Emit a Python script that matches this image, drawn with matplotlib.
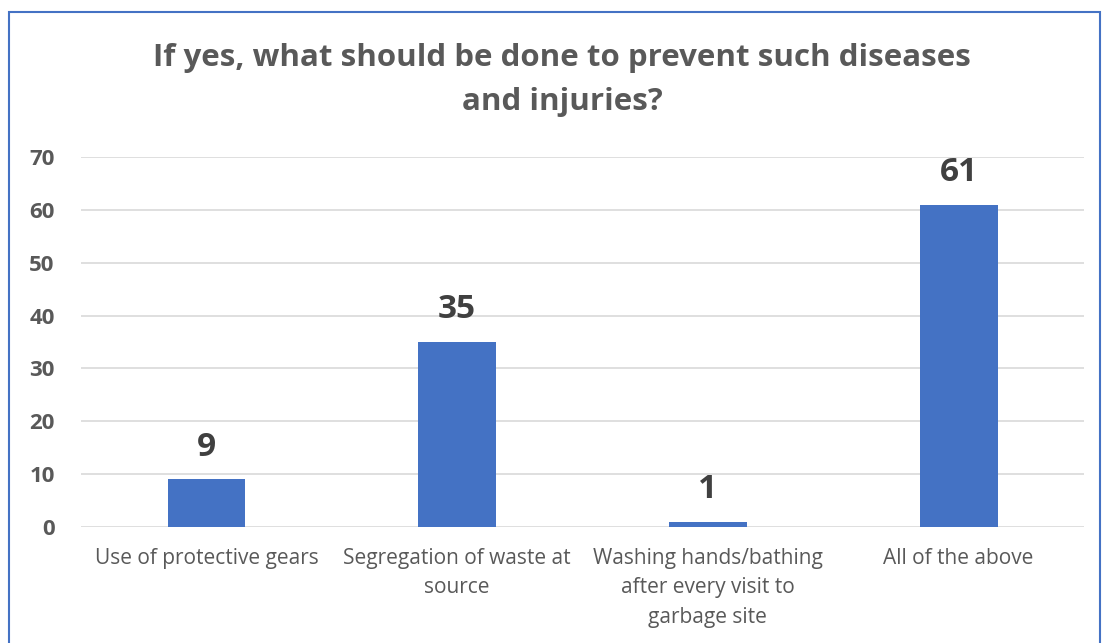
import matplotlib.pyplot as plt
from matplotlib.patches import Rectangle

categories = ["Use of protective gears",
              "Segregation of waste at\nsource",
              "Washing hands/bathing\nafter every visit to\ngarbage site",
              "All of the above"]
counts = [9, 35, 1, 61]
yticks = [0, 10, 20, 30, 40, 50, 60, 70]

plt.rcParams['font.family'] = ['Open Sans', 'DejaVu Sans']
grey = '#595959'

fig = plt.figure(figsize=(11.02, 6.43), dpi=100)
ax = fig.add_axes([0.0735, 0.1804, 0.9102, 0.5754])

x = range(len(categories))
bars = ax.bar(x, counts, width=0.31, color='#4472C4', zorder=3)
for b, v in zip(bars, counts):
    ax.text(b.get_x() + b.get_width() / 2, v + 3.0, str(v), ha='center', va='bottom',
            fontsize=24, fontweight='bold', color='#404040')

ax.set_xlim(-0.5, len(categories) - 0.5)
ax.set_ylim(0, 70)
ax.set_yticks(yticks)
ax.set_yticklabels([str(t) for t in yticks], fontsize=16, fontweight='bold', color=grey)
ax.set_xticks(list(x))
ax.set_xticklabels(categories, fontsize=15, color=grey, linespacing=1.54, va='top')
ax.tick_params(axis='both', length=0)
ax.tick_params(axis='y', pad=19)
ax.tick_params(axis='x', pad=15)
ax.yaxis.grid(True, color='#D9D9D9', linewidth=1.2, zorder=0)
for s in ax.spines.values():
    s.set_visible(False)

fig.text(0.51, 0.8756, "If yes, what should be done to prevent such diseases\nand injuries?",
         ha='center', va='center', fontsize=22.5, fontweight='bold', color=grey, linespacing=1.65)

# chart frame
fig.patches.append(Rectangle((9 / 1102, -0.05), 1091 / 1102, 1 - 12 / 643 + 0.05,
                             transform=fig.transFigure, fill=False,
                             edgecolor='#4472C4', linewidth=1.5))

fig.savefig('out.png', dpi=100)
